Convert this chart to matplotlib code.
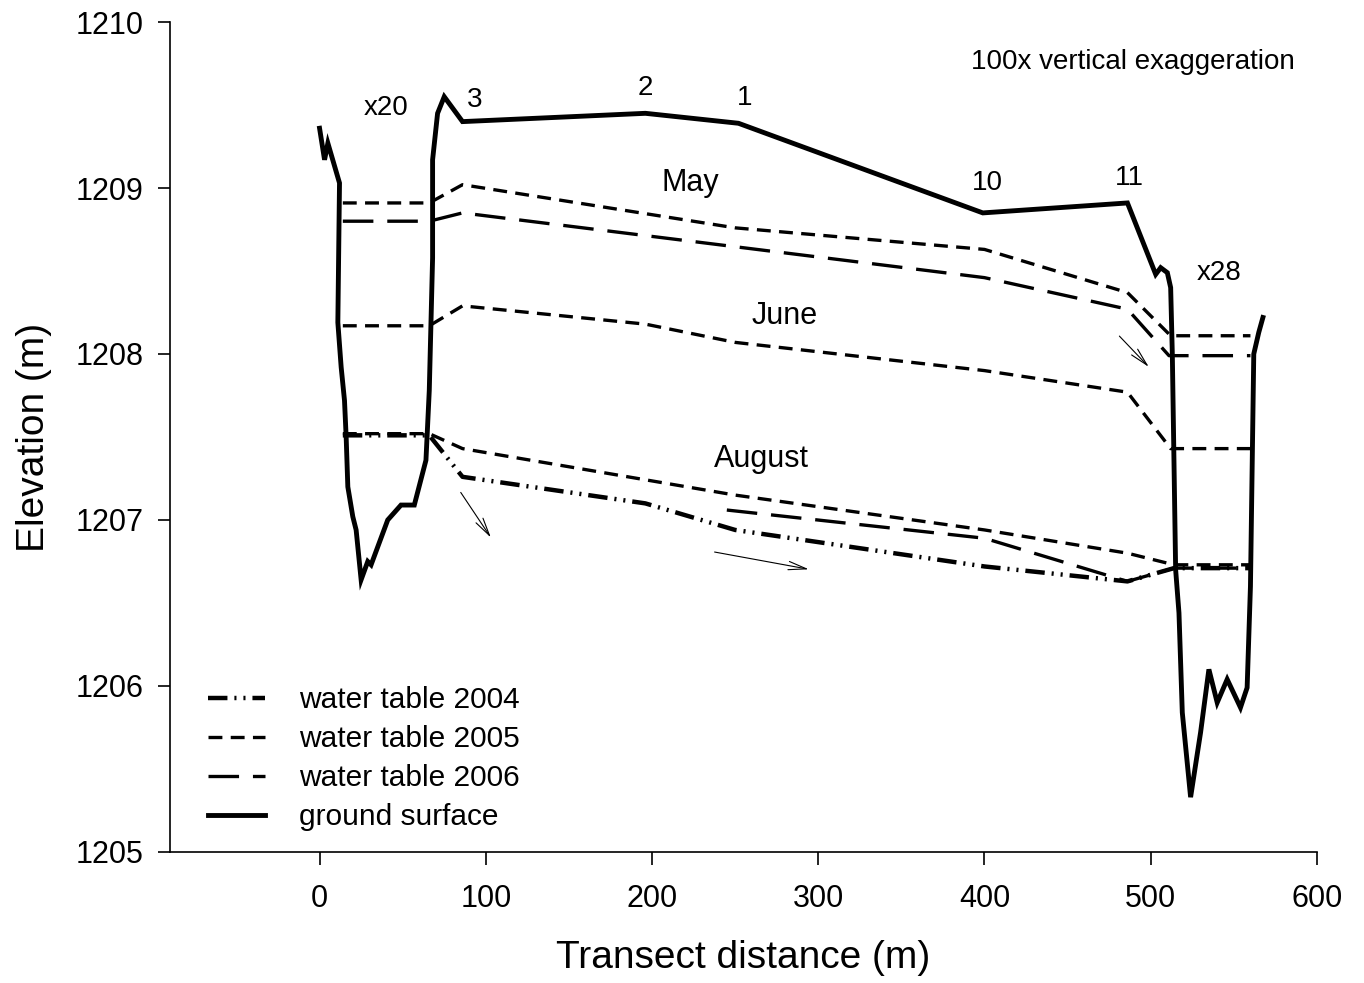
import matplotlib
matplotlib.use('Agg')
import matplotlib.pyplot as plt

plt.rcParams['font.family'] = ['Liberation Sans', 'DejaVu Sans']
plt.rcParams['lines.scale_dashes'] = False

# ground surface profile
ground_x = [0, 3, 5, 12, 11, 13, 15, 16, 17, 20, 22, 25, 29, 31, 41, 49, 57, 64, 66,
            68, 68, 71, 75, 86, 196, 252, 399, 486, 503, 506, 510, 512, 513, 515,
            517, 519, 524, 530, 535, 540, 546, 554, 558, 560, 562, 565, 567.5]
ground_y = [1209.36, 1209.17, 1209.27, 1209.03, 1208.19, 1207.92, 1207.72, 1207.5,
            1207.2, 1207.02, 1206.94, 1206.64, 1206.75, 1206.73, 1207.0, 1207.09,
            1207.09, 1207.36, 1207.78, 1208.58, 1209.17, 1209.45, 1209.55, 1209.40,
            1209.45, 1209.39, 1208.85, 1208.91, 1208.48, 1208.52, 1208.49, 1208.40,
            1208.0, 1206.7, 1206.44, 1205.84, 1205.33, 1205.72, 1206.10, 1205.90,
            1206.04, 1205.87, 1205.99, 1206.6, 1208.0, 1208.13, 1208.22]

# water tables
may05_x = [14, 66, 86, 250, 400, 486, 512, 560]
may05_y = [1208.91, 1208.91, 1209.02, 1208.76, 1208.63, 1208.37, 1208.11, 1208.11]
may06_x = [14, 66, 86, 400, 486, 511, 560]
may06_y = [1208.80, 1208.80, 1208.85, 1208.46, 1208.27, 1207.99, 1207.99]
jun05_x = [14, 66, 86, 196, 250, 400, 486, 512, 560]
jun05_y = [1208.17, 1208.17, 1208.29, 1208.18, 1208.07, 1207.90, 1207.77, 1207.43, 1207.43]
aug05_x = [14, 66, 86, 250, 400, 486, 514, 560]
aug05_y = [1207.52, 1207.52, 1207.43, 1207.15, 1206.94, 1206.80, 1206.73, 1206.73]
aug04_x = [14, 66, 86, 196, 250, 400, 486, 514, 560]
aug04_y = [1207.51, 1207.51, 1207.26, 1207.10, 1206.94, 1206.72, 1206.63, 1206.71, 1206.71]
aug06_x = [245, 400, 486, 514, 560]
aug06_y = [1207.06, 1206.89, 1206.63, 1206.71, 1206.71]

# well labels
well_names = ['x20', '3', '2', '1', '10', '11', 'x28']
well_x = [40, 93, 196, 256, 402, 487, 541]
well_y = [1209.48, 1209.53, 1209.60, 1209.54, 1209.03, 1209.06, 1208.49]

month_names = ['May', 'June', 'August']
month_x = [223, 280, 266]
month_y = [1209.03, 1208.23, 1207.37]

# flow arrows (start, end)
arrows = [((84, 1207.18), (104, 1206.88)),
          ((236, 1206.81), (296, 1206.70)),
          ((480, 1208.12), (500, 1207.91))]

d05 = (0, (10, 6))
d06 = (0, (22, 10))
d04 = (0, (14, 5, 1.5, 5, 1.5, 5))

fig = plt.figure(figsize=(13.64, 9.83), dpi=100)
ax = fig.add_axes([0.1246, 0.1333, 0.8409, 0.8443])

ax.plot(aug04_x, aug04_y, color='black', lw=3.2, linestyle=d04, label='water table 2004')
ax.plot(may05_x, may05_y, color='black', lw=2.4, linestyle=d05, label='water table 2005')
ax.plot(jun05_x, jun05_y, color='black', lw=2.4, linestyle=d05)
ax.plot(aug05_x, aug05_y, color='black', lw=2.4, linestyle=d05)
ax.plot(may06_x, may06_y, color='black', lw=2.4, linestyle=d06, label='water table 2006')
ax.plot(aug06_x, aug06_y, color='black', lw=2.4, linestyle=d06)
ax.plot(ground_x, ground_y, color='black', lw=3.5, solid_joinstyle='miter',
        label='ground surface')

for name, x, y in zip(well_names, well_x, well_y):
    ax.text(x, y, name, fontsize=20, ha='center', va='center')
for name, x, y in zip(month_names, month_x, month_y):
    ax.text(x, y, name, fontsize=22, ha='center', va='center')
ax.text(489, 1209.76, '100x vertical exaggeration', fontsize=20, ha='center', va='center')

for (x0, y0), (x1, y1) in arrows:
    ax.annotate('', xy=(x1, y1), xytext=(x0, y0),
                arrowprops=dict(arrowstyle='->,head_length=1.3,head_width=0.3',
                                lw=0.8, color='black'))

ax.set_xlim(-90, 600)
ax.set_ylim(1205, 1210)
ax.set_xticks([0, 100, 200, 300, 400, 500, 600])
ax.set_yticks([1205, 1206, 1207, 1208, 1209, 1210])
ax.tick_params(labelsize=22, length=9, width=1.2, pad=10)
ax.tick_params(axis='x', pad=14)
ax.spines['top'].set_visible(False)
ax.spines['right'].set_visible(False)
ax.spines['left'].set_linewidth(1.2)
ax.spines['bottom'].set_linewidth(1.2)
ax.set_xlabel('Transect distance (m)', fontsize=28, labelpad=19)
ax.set_ylabel('Elevation (m)', fontsize=28, labelpad=17)

ax.legend(loc='lower left', bbox_to_anchor=(0.033, 0.025), frameon=False, fontsize=21.5,
          borderpad=0, borderaxespad=0, handlelength=1.9, handletextpad=1.15,
          labelspacing=0.37)

fig.savefig('out.png', dpi=100)
